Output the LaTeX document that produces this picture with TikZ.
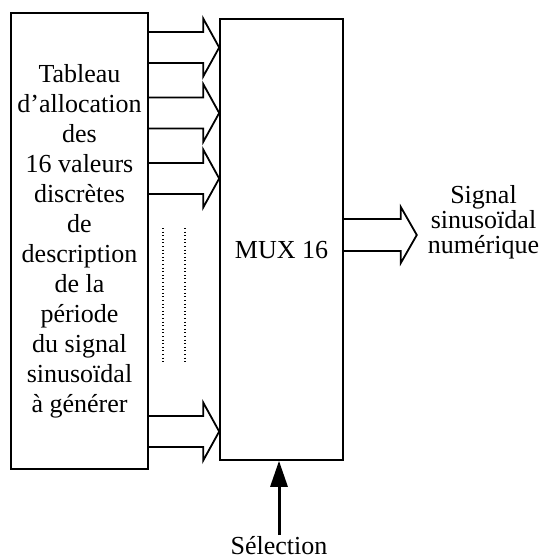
\documentclass[tikz,border=0pt]{standalone}
\usepackage{fontspec}
\setmainfont{Liberation Serif}
\usetikzlibrary{arrows.meta}
\begin{document}
\begin{tikzpicture}[x=1pt,y=-1pt,line width=1.6pt,line join=miter,
  blockbox/.style={draw,inner sep=0pt,align=center},
  lbl/.style={inner sep=0pt,align=center,font=\fontsize{26}{30}\selectfont},
  fatarrow/.style={draw,line width=1.8pt},
  dotline/.style={line width=1.1pt,dash pattern=on 1pt off 2.6pt},
  selarrow/.style={line width=3pt,-{Triangle[length=26pt,width=17pt]}}]
\useasboundingbox (0,0) rectangle (551,560);
\node[blockbox,lbl,minimum width=137pt,minimum height=456pt] (tab) at (79.5,241)
  {Tableau\\d’allocation\\des\\16 valeurs\\discrètes\\de\\description\\de la\\période\\du signal\\sinusoïdal\\à générer};
\node[blockbox,minimum width=123pt,minimum height=441pt] (mux) at (281.5,239.5) {};
\node[lbl] (muxlabel) at (281.5,250) {MUX 16};
\coordinate (hx) at ([xshift=-16pt]mux.west);
\newcommand\harrow[1]{%
  \draw[fatarrow] (tab.east |- 0,#1-15.5) -- (hx |- 0,#1-15.5) -- (hx |- 0,#1-29)
    -- (mux.west |- 0,#1) -- (hx |- 0,#1+29) -- (hx |- 0,#1+15.5) -- (tab.east |- 0,#1+15.5);}
\harrow{47.5}
\harrow{113}
\harrow{178.5}
\harrow{431.5}
\draw[dotline] (163,228) -- (163,362);
\draw[dotline] (185,228) -- (185,362);
\coordinate (ox) at ([xshift=57pt]mux.east);
\coordinate (otip) at ([xshift=73pt]mux.east);
\draw[fatarrow] (mux.east |- 0,219) -- (ox |- 0,219) -- (ox |- 0,207) -- (otip |- 0,235)
  -- (ox |- 0,263) -- (ox |- 0,251) -- (mux.east |- 0,251);
\node[lbl,font=\fontsize{26}{25}\selectfont] (out) at (483.5,222) {Signal\\sinusoïdal\\numérique};
\node[lbl] (sel) at (279,546) {Sélection};
\draw[selarrow] ([yshift=11pt]sel.center) -- (sel.center |- mux.south);
\end{tikzpicture}
\end{document}
